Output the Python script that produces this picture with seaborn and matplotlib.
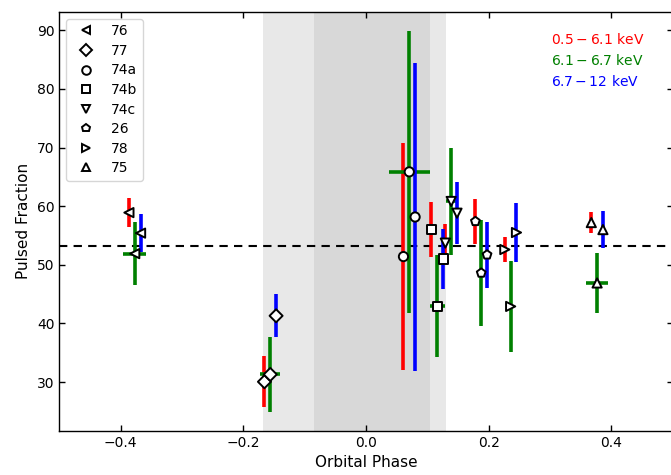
import numpy as np
import pandas as pd
import matplotlib
matplotlib.use("Agg")
import matplotlib.pyplot as plt
from matplotlib.lines import Line2D
import seaborn as sns

# ---------------- data ----------------
obs_ids = ['76', '77', '74a', '74b', '74c', '26', '78', '75']
obs_markers = ['<', 'D', 'o', 's', 'v', 'p', '>', '^']
phase = [-0.377, -0.156, 0.0707, 0.1164, 0.139, 0.188, 0.236, 0.377]
green_xerr = [0.019, 0.016, 0.033, 0.0126, 0.008, 0.0, 0.0, 0.018]

red_pf = [58.9, 30.05, 51.4, 56.0, 53.7, 57.4, 52.6, 57.2]
red_err = [2.5, 4.35, 19.3, 4.7, 3.3, 3.8, 2.2, 1.85]
green_pf = [51.9, 31.3, 65.85, 42.9, 60.8, 48.6, 42.9, 46.9]
green_err = [5.4, 6.4, 24.1, 8.7, 9.1, 9.0, 7.8, 5.1]
blue_pf = [55.4, 41.3, 58.15, 51.0, 58.8, 51.7, 55.5, 56.0]
blue_err = [3.3, 3.7, 26.3, 5.1, 5.3, 5.6, 5.0, 3.2]

mean_pf = 53.2
band_labels = [r'$0.5-6.1$ keV', r'$6.1-6.7$ keV', r'$6.7-12$ keV']
band_colors = ['red', 'green', 'blue']
band_text_y = [88.4, 84.8, 81.3]
eclipse_outer = (-0.168, 0.130)
eclipse_inner = (-0.085, 0.104)

# ---------------- style ----------------
sns.set_style("ticks")
plt.rcParams.update({
    'font.family': ['DejaVu Sans'],
    'font.size': 10,
    'axes.edgecolor': 'black',
    'axes.labelcolor': 'black',
    'xtick.color': 'black',
    'ytick.color': 'black',
    'text.color': 'black',
    'xtick.direction': 'in',
    'ytick.direction': 'in',
    'xtick.top': True,
    'ytick.right': True,
    'xtick.labelsize': 10,
    'ytick.labelsize': 10,
    'axes.labelsize': 11,
    'axes.linewidth': 1.0,
})

fig = plt.figure(figsize=(6.71, 4.75), dpi=100)
ax = fig.add_axes([0.0884, 0.0926, 0.9139, 0.8826])

ax.axvspan(*eclipse_outer, color='#e8e8e8', lw=0, zorder=0)
ax.axvspan(*eclipse_inner, color='#d8d8d8', lw=0, zorder=0)

DX = 0.0095
ph = np.array(phase)
xs = [ph - DX, ph, ph + DX]
ys = [red_pf, green_pf, blue_pf]
errs = [red_err, green_err, blue_err]
xerrs = [None, green_xerr, None]

for x, y, e, xe, c in zip(xs, ys, errs, xerrs, band_colors):
    ax.errorbar(x, y, yerr=e, xerr=xe, fmt='none', ecolor=c,
                elinewidth=2.6, capsize=0, zorder=2)

ax.axhline(mean_pf, color='black', ls='--', lw=1.5, dashes=(4, 3), zorder=1)

rows = []
for band, x, y in zip(band_labels, xs, ys):
    for i, oid in enumerate(obs_ids):
        rows.append({'phase': x[i], 'pf': y[i], 'obs': oid, 'band': band})
df = pd.DataFrame(rows)

sns.scatterplot(data=df, x='phase', y='pf', style='obs',
                markers=dict(zip(obs_ids, obs_markers)), style_order=obs_ids,
                s=44, color='white', edgecolor='black', linewidth=1.4,
                legend=False, ax=ax, zorder=3)

ax.set_xlim(-0.5, 0.5)
ax.set_ylim(21.65, 93.15)
ax.set_xlabel('Orbital Phase')
ax.set_ylabel('Pulsed Fraction')
ax.tick_params(length=4, width=1)

handles = [Line2D([], [], marker=m, ls='none', mfc='white', mec='black',
                  ms=6.2, mew=1.4) for m in obs_markers]
leg = ax.legend(handles, obs_ids, loc='upper left', frameon=True,
                fontsize=10, handletextpad=0.8, labelspacing=0.4)
leg.get_frame().set_edgecolor('#cccccc')

for lab, c, ty in zip(band_labels, band_colors, band_text_y):
    ax.text(0.302, ty, lab, color=c, fontsize=10, va='center', ha='left')

fig.savefig('out.png', dpi=100)
